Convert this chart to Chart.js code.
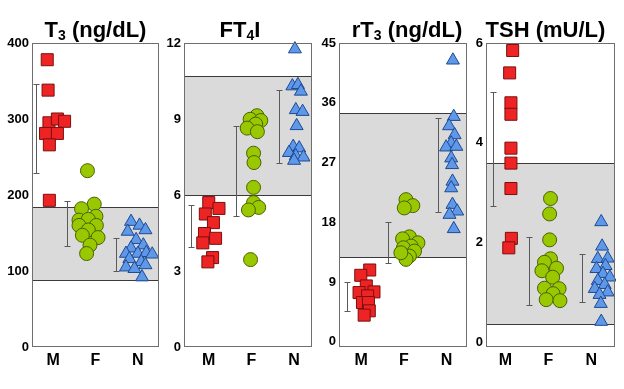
<!DOCTYPE html>
<html>
<head>
<meta charset="utf-8">
<script src="https://cdn.jsdelivr.net/npm/chart.js@4.4.1/dist/chart.umd.min.js"></script>
<style>
  html, body { margin: 0; padding: 0; background: #fff; }
  #wrap { position: relative; width: 624px; height: 389px; overflow: hidden; }
  #wrap canvas { position: absolute; top: 0; }
</style>
</head>
<body>
<div id="wrap"></div>
<script>
var groups = ["M", "F", "N"];

// T3 (ng/dL)
var t3Ticks = [0, 100, 200, 300, 400];
var t3Ref = [88, 184];
var t3M = [378, 338, 295, 300, 297, 281, 281, 266, 193];
var t3Mx = [-0.14, -0.12, -0.10, 0.10, 0.27, -0.18, 0.10, -0.09, -0.09];
var t3F = [232, 188, 182, 172, 167, 168, 160, 160, 154, 147, 144, 134, 123];
var t3Fx = [0.81, 0.97, 0.67, 1.01, 0.61, 0.83, 1.02, 0.61, 0.83, 0.69, 1.06, 0.87, 0.79];
var t3N = [165, 160, 154, 152, 141, 134, 130, 123, 123, 124, 122, 116, 112, 105, 103, 108, 92];
var t3Nx = [1.84, 2.04, 2.18, 1.76, 1.96, 2.13, 1.84, 1.72, 2.0, 2.2, 2.34, 1.8, 2.08, 1.72, 1.92, 2.18, 2.1];
var t3Lo = [229, 133, 100];
var t3Hi = [346, 192, 144];

// FT4I
var ft4Ticks = [0, 3, 6, 9, 12];
var ft4Ref = [6.0, 10.7];
var ft4M = [5.70, 5.47, 5.25, 4.91, 4.48, 4.29, 4.11, 3.53, 3.36];
var ft4Mx = [0.0, 0.24, -0.08, 0.11, -0.1, 0.16, -0.14, 0.09, -0.02];
var ft4F = [9.13, 8.99, 8.94, 8.8, 8.64, 8.5, 7.65, 7.28, 6.3, 5.70, 5.51, 5.41, 3.45];
var ft4Fx = [1.13, 0.97, 1.22, 1.1, 0.9, 1.14, 1.05, 1.06, 1.05, 1.05, 1.17, 0.93, 0.98];
var ft4N = [11.76, 10.3, 10.35, 10.09, 9.36, 9.29, 8.73, 7.91, 7.85, 7.67, 7.54, 7.49, 7.36];
var ft4Nx = [2.02, 1.96, 2.09, 2.16, 2.04, 2.2, 2.06, 1.98, 2.12, 1.88, 2.04, 2.22, 2.0];
var ft4Lo = [3.96, 5.17, 7.25];
var ft4Hi = [5.6, 8.73, 10.13];

// rT3 (ng/dL)
var rt3Ticks = [0, 9, 18, 27, 36, 45];
var rt3Ref = [12.8, 34.5];
var rt3M = [10.8, 10.0, 8.4, 7.4, 7.5, 6.9, 5.9, 5.9, 4.65, 4.0];
var rt3Mx = [0.2, -0.01, 0.12, -0.05, 0.3, 0.15, 0.03, 0.17, 0.19, 0.07];
var rt3F = [21.4, 20.5, 20.15, 15.8, 15.5, 14.9, 14.4, 14.15, 13.65, 12.9, 12.4, 13.4];
var rt3Fx = [1.05, 1.21, 1.01, 1.13, 0.97, 1.33, 1.17, 0.99, 1.25, 1.13, 1.05, 0.93];
var rt3N = [42.4, 33.9, 32.5, 31.15, 29.9, 29.3, 29.4, 27.65, 26.65, 24.15, 23.15, 20.65, 19.65, 19.15, 17.0];
var rt3Nx = [2.15, 2.17, 2.06, 2.19, 2.11, 1.99, 2.23, 2.11, 2.13, 2.14, 2.11, 2.14, 2.25, 2.07, 2.17];
var rt3Lo = [4.65, 11.9, 19.5];
var rt3Hi = [9.0, 18.0, 33.65];

// TSH (mU/L)
var tshTicks = [0, 2, 4, 6];
var tshRef = [0.37, 3.6];
var tshM = [5.85, 5.4, 4.8, 4.57, 3.89, 3.59, 3.08, 2.08, 1.89];
var tshMx = [0.17, 0.10, 0.13, 0.13, 0.13, 0.13, 0.13, 0.14, 0.08];
var tshF = [2.88, 2.57, 2.05, 1.67, 1.6, 1.48, 1.43, 1.3, 1.08, 1.07, 0.97, 0.85, 0.83];
var tshFx = [1.05, 1.03, 1.03, 1.05, 0.91, 1.19, 0.85, 1.1, 0.91, 1.25, 1.11, 0.95, 1.27];
var tshN = [2.41, 1.92, 1.67, 1.68, 1.53, 1.47, 1.37, 1.3, 1.23, 1.15, 1.07, 1.0, 0.95, 0.77, 0.41];
var tshNx = [2.23, 2.25, 2.15, 2.38, 2.33, 2.12, 2.27, 2.43, 2.15, 2.31, 2.08, 2.38, 2.19, 2.22, 2.23];
var tshLo = [2.72, 0.75, 0.81];
var tshHi = [5.01, 2.1, 1.77];

var FONT = "'Liberation Sans', Arial, Helvetica, sans-serif";

var panels = [
  { title: [["T", 0], ["3", 1], [" (ng/dL)", 0]], titleDx: 0, box: [32, 159], xMin: -0.5, yMin: 0, yMax: 400,
    ticks: t3Ticks, ref: t3Ref, ys: [t3M, t3F, t3N], xs: [t3Mx, t3Fx, t3Nx], lo: t3Lo, hi: t3Hi, barX: [-0.4, 0.33, 1.48] },
  { title: [["FT", 0], ["4", 1], ["I", 0]], titleDx: -8, box: [184, 312], xMin: -0.58, yMin: 0, yMax: 12,
    ticks: ft4Ticks, ref: ft4Ref, ys: [ft4M, ft4F, ft4N], xs: [ft4Mx, ft4Fx, ft4Nx], lo: ft4Lo, hi: ft4Hi, barX: [-0.42, 0.63, 1.64] },
  { title: [["rT", 0], ["3", 1], [" (ng/dL)", 0]], titleDx: 4, box: [339, 467], xMin: -0.52, yMin: -0.8, yMax: 45,
    ticks: rt3Ticks, ref: rt3Ref, ys: [rt3M, rt3F, rt3N], xs: [rt3Mx, rt3Fx, rt3Nx], lo: rt3Lo, hi: rt3Hi, barX: [-0.34, 0.62, 1.80] },
  { title: [["TSH (mU/L)", 0]], titleDx: -5, box: [486, 615], xMin: -0.45, yMin: -0.1, yMax: 6,
    ticks: tshTicks, ref: tshRef, ys: [tshM, tshF, tshN], xs: [tshMx, tshFx, tshNx], lo: tshLo, hi: tshHi, barX: [-0.29, 0.56, 1.78] }
];

var markers = [
  { style: "rect", radius: 8.5, fill: "#ee2424", line: "#7a0f0f" },
  { style: "circle", radius: 7, fill: "#99c800", line: "#4a6200" },
  { style: "triangle", radius: 7.5, fill: "#5f98e8", line: "#1d4a94" }
];

// reference band, error bars, frame and title
var decor = {
  id: "decor",
  beforeDatasetsDraw: function(chart) {
    var o = chart.options.plugins.decor, ctx = chart.ctx, a = chart.chartArea;
    var xs = chart.scales.x, ys = chart.scales.y;
    var top = Math.round(ys.getPixelForValue(o.ref[1])), bot = Math.round(ys.getPixelForValue(o.ref[0]));
    ctx.save();
    ctx.fillStyle = "#dadada";
    ctx.fillRect(a.left, top, a.right - a.left, bot - top);
    ctx.strokeStyle = "#3a3a3a";
    ctx.lineWidth = 1;
    ctx.beginPath();
    ctx.moveTo(a.left, top + 0.5); ctx.lineTo(a.right, top + 0.5);
    ctx.moveTo(a.left, bot + 0.5); ctx.lineTo(a.right, bot + 0.5);
    ctx.stroke();
    ctx.strokeStyle = "#5a5a5a";
    ctx.beginPath();
    o.barX.forEach(function(bx, i) {
      var px = Math.round(xs.getPixelForValue(bx)) + 0.5;
      var p1 = Math.round(ys.getPixelForValue(o.hi[i])) + 0.5;
      var p2 = Math.round(ys.getPixelForValue(o.lo[i])) + 0.5;
      ctx.moveTo(px, p1); ctx.lineTo(px, p2);
      ctx.moveTo(px - 3, p1); ctx.lineTo(px + 3, p1);
      ctx.moveTo(px - 3, p2); ctx.lineTo(px + 3, p2);
    });
    ctx.stroke();
    ctx.restore();
  },
  afterDatasetsDraw: function(chart) {
    var ctx = chart.ctx, a = chart.chartArea;
    ctx.save();
    ctx.strokeStyle = "#6e6e6e";
    ctx.lineWidth = 1;
    ctx.strokeRect(Math.round(a.left) + 0.5, Math.round(a.top) + 0.5,
      Math.round(a.right - a.left) - 1, Math.round(a.bottom - a.top) - 1);
    ctx.restore();
  },
  afterDraw: function(chart) {
    var o = chart.options.plugins.decor, parts = o.title, ctx = chart.ctx, a = chart.chartArea;
    var big = "bold 22px " + FONT, small = "bold 14px " + FONT;
    var total = 0;
    ctx.save();
    parts.forEach(function(p) { ctx.font = p[1] ? small : big; total += ctx.measureText(p[0]).width; });
    var x = (a.left + a.right) / 2 - total / 2 + o.titleDx;
    ctx.fillStyle = "#000";
    ctx.textBaseline = "alphabetic";
    ctx.textAlign = "left";
    parts.forEach(function(p) {
      ctx.font = p[1] ? small : big;
      ctx.fillText(p[0], x, p[1] ? 40 : 37);
      x += ctx.measureText(p[0]).width;
    });
    ctx.restore();
  }
};

var wrap = document.getElementById("wrap");
panels.forEach(function(p) {
  var cv = document.createElement("canvas");
  var w = p.box[1] - p.box[0] + 31;
  cv.width = w; cv.height = 389;
  cv.style.left = (p.box[0] - 30) + "px";
  cv.style.width = w + "px"; cv.style.height = "389px";
  wrap.appendChild(cv);

  var datasets = groups.map(function(g, gi) {
    var m = markers[gi];
    return {
      label: g,
      data: p.ys[gi].map(function(v, i) { return { x: p.xs[gi][i], y: v }; }),
      pointStyle: m.style,
      pointRadius: m.radius,
      backgroundColor: m.fill,
      borderColor: m.line,
      borderWidth: 1,
      clip: false
    };
  });

  new Chart(cv, {
    type: "scatter",
    data: { datasets: datasets },
    options: {
      responsive: false,
      animation: false,
      events: [],
      layout: { autoPadding: false, padding: { top: 43, right: 1, left: 0, bottom: 0 } },
      plugins: {
        legend: { display: false },
        tooltip: { enabled: false },
        decor: { title: p.title, titleDx: p.titleDx, ref: p.ref, lo: p.lo, hi: p.hi, barX: p.barX }
      },
      scales: {
        x: {
          type: "linear", min: p.xMin, max: p.xMin + 3,
          grid: { display: false, drawTicks: false }, border: { display: false },
          afterBuildTicks: function(s) { s.ticks = [0, 1, 2].map(function(v) { return { value: v }; }); },
          afterFit: function(s) { s.height = 42; },
          ticks: {
            autoSkip: false, maxRotation: 0, padding: 4, color: "#000",
            font: { family: FONT, size: 16, weight: "bold" },
            callback: function(v) { return groups[v]; }
          }
        },
        y: {
          min: p.yMin, max: p.yMax,
          grid: { display: false, drawTicks: false }, border: { display: false },
          afterBuildTicks: function(s) { s.ticks = p.ticks.map(function(v) { return { value: v }; }); },
          afterFit: function(s) { s.width = 30; },
          ticks: {
            padding: 3, color: "#000",
            font: { family: FONT, size: 13, weight: "bold" },
            callback: function(v) { return String(v); }
          }
        }
      }
    },
    plugins: [decor]
  });
});
</script>
</body>
</html>
